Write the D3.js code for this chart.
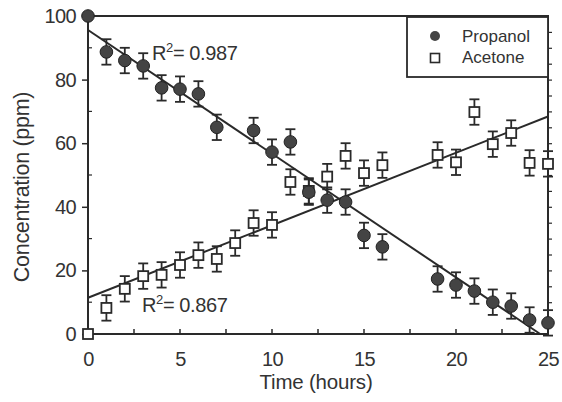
<!DOCTYPE html>
<html>
<head>
<meta charset="utf-8">
<script src="https://cdn.jsdelivr.net/npm/d3@7"></script>
<style>
  body { margin: 0; background: #fff; }
  svg { display: block; font-family: "Liberation Sans", Arial, sans-serif; }
</style>
</head>
<body>
<svg id="chart" width="562" height="402"></svg>
<script>
// data
var hours = [0, 1, 2, 3, 4, 5, 6, 7, 8, 9, 10, 11, 12, 13, 14, 15, 16, 19, 20, 21, 22, 23, 24, 25];
var propanolHours = [0, 1, 2, 3, 4, 5, 6, 7, 9, 10, 11, 12, 13, 14, 15, 16, 19, 20, 21, 22, 23, 24, 25];
var propanol = [100, 88.7, 86, 84.3, 77.4, 77, 75.5, 65, 64, 57.2, 60.4, 44.6, 42.1, 41.5, 31, 27.4, 17.3, 15.4, 13.5, 10, 8.8, 4.4, 3.5];
var propanolErr = [0, 4, 4, 4, 4, 4, 4, 4, 4, 4, 4, 4, 4, 4, 4, 4, 4, 4, 4, 4, 4, 4, 4];
var acetone = [0, 8.2, 14.2, 18.2, 18.6, 21.7, 24.8, 23.6, 28.6, 34.9, 34.3, 47.8, 45, 49.5, 56, 50.6, 53.1, 56.3, 54, 69.8, 59.7, 63.2, 53.8, 53.5];
var acetoneErr = [0, 4, 4, 4, 4, 4, 4, 4, 4, 4, 4, 4, 4, 4, 4, 4, 4, 4, 4, 4, 4, 4, 4, 4];
// linear fits (intercept, slope)
var propanolFit = [95.6, -3.89];
var acetoneFit = [11.4, 2.28];
var xTicks = [0, 5, 10, 15, 20, 25];
var yTicks = [0, 20, 40, 60, 80, 100];

var svg = d3.select("#chart");
var margin = { top: 16, right: 14, bottom: 68, left: 88 };
var width = 562 - margin.left - margin.right,
    height = 402 - margin.top - margin.bottom;
var g = svg.append("g").attr("transform", "translate(" + margin.left + "," + margin.top + ")");

var x = d3.scaleLinear().domain([0, 25]).range([0, width]);
var y = d3.scaleLinear().domain([0, 100]).range([height, 0]);
var ink = "#2a2a2a", txt = "#333";

// frame
g.append("rect").attr("width", width).attr("height", height)
  .attr("fill", "none").attr("stroke", ink).attr("stroke-width", 2);

// left axis: major outward, minor inward
var yAx = g.append("g").call(d3.axisLeft(y).tickValues(yTicks).tickSize(6).tickPadding(6));
yAx.select(".domain").remove();
yAx.selectAll("line").attr("stroke", ink).attr("stroke-width", 1.5);
yAx.selectAll("text").style("font-size", "20px").attr("fill", txt).attr("letter-spacing", "-0.6");
g.append("g").selectAll("line").data(d3.range(10, 100, 20)).enter().append("line")
  .attr("x1", 0).attr("x2", 4).attr("y1", y).attr("y2", y)
  .attr("stroke", ink).attr("stroke-width", 1.2);

// right axis ticks
var rAx = g.append("g").attr("transform", "translate(" + width + ",0)")
  .call(d3.axisRight(y).tickValues(d3.range(5, 100, 5)).tickSize(4).tickFormat(""));
rAx.select(".domain").remove();
rAx.selectAll("line").attr("stroke", ink).attr("stroke-width", 1.2);

// bottom axis: ticks inward
var xAx = g.append("g").attr("transform", "translate(0," + height + ")")
  .call(d3.axisBottom(x).tickValues(xTicks).tickSize(0));
xAx.select(".domain").remove();
xAx.selectAll("text").attr("y", 32).attr("dy", null)
  .style("font-size", "20px").attr("fill", txt).attr("letter-spacing", "-0.6");
g.append("g").selectAll("line").data(d3.range(2.5, 25, 2.5)).enter().append("line")
  .attr("x1", x).attr("x2", x).attr("y1", height).attr("y2", height - 5)
  .attr("stroke", ink).attr("stroke-width", 1.5);

// axis titles
svg.append("text").attr("transform", "translate(29,187) rotate(-90)")
  .attr("text-anchor", "middle").style("font-size", "21.5px").attr("fill", txt)
  .attr("letter-spacing", "-0.3").text("Concentration (ppm)");
svg.append("text").attr("x", 316).attr("y", 389)
  .attr("text-anchor", "middle").style("font-size", "20.5px").attr("fill", txt)
  .attr("letter-spacing", "-0.2").text("Time (hours)");

// fit lines
function fitLine(fit) {
  var x1 = 25;
  var yEnd = fit[0] + fit[1] * x1;
  if (yEnd < 0) { x1 = -fit[0] / fit[1]; yEnd = 0; }
  return [[0, fit[0]], [x1, yEnd]];
}
var line = d3.line().x(function (d) { return x(d[0]); }).y(function (d) { return y(d[1]); });
g.append("path").attr("d", line(fitLine(propanolFit))).attr("fill", "none").attr("stroke", ink).attr("stroke-width", 2);
g.append("path").attr("d", line(fitLine(acetoneFit))).attr("fill", "none").attr("stroke", ink).attr("stroke-width", 2);

// error bars
function errorBars(xs, vals, errs) {
  var eb = g.append("g").selectAll("g").data(vals.map(function (v, i) { return { t: xs[i], v: v, e: errs[i] }; })
    .filter(function (d) { return d.e > 0; })).enter().append("g")
    .attr("stroke", ink).attr("stroke-width", 1.8);
  eb.append("line").attr("x1", function (d) { return x(d.t); }).attr("x2", function (d) { return x(d.t); })
    .attr("y1", function (d) { return y(d.v - d.e); }).attr("y2", function (d) { return y(d.v + d.e); });
  eb.append("line").attr("x1", function (d) { return x(d.t) - 5; }).attr("x2", function (d) { return x(d.t) + 5; })
    .attr("y1", function (d) { return y(d.v + d.e); }).attr("y2", function (d) { return y(d.v + d.e); });
  eb.append("line").attr("x1", function (d) { return x(d.t) - 5; }).attr("x2", function (d) { return x(d.t) + 5; })
    .attr("y1", function (d) { return y(d.v - d.e); }).attr("y2", function (d) { return y(d.v - d.e); });
}
errorBars(hours, acetone, acetoneErr);
errorBars(propanolHours, propanol, propanolErr);

// acetone squares
g.append("g").selectAll("rect").data(acetone).enter().append("rect")
  .attr("x", function (d, i) { return x(hours[i]) - 5; })
  .attr("y", function (d) { return y(d) - 5; })
  .attr("width", 10).attr("height", 10)
  .attr("fill", "#fff").attr("stroke", ink).attr("stroke-width", 1.8);

// propanol circles
g.append("g").selectAll("circle").data(propanol).enter().append("circle")
  .attr("cx", function (d, i) { return x(propanolHours[i]); })
  .attr("cy", function (d) { return y(d); })
  .attr("r", 6.3).attr("fill", "#444").attr("stroke", "#222").attr("stroke-width", 1);

// R² labels
function r2(tx, ty, val) {
  var t = svg.append("text").attr("x", tx).attr("y", ty).style("font-size", "20px").attr("fill", txt)
    .attr("letter-spacing", "-0.4");
  t.append("tspan").text("R");
  t.append("tspan").attr("dy", -8).style("font-size", "13px").text("2");
  t.append("tspan").attr("dy", 8).text("= " + val);
}
r2(152, 60, "0.987");
r2(142, 312, "0.867");

// legend
var lg = svg.append("g");
lg.append("rect").attr("x", 407).attr("y", 17).attr("width", 141).attr("height", 60)
  .attr("fill", "#fff").attr("stroke", ink).attr("stroke-width", 1.8);
lg.append("circle").attr("cx", 435).attr("cy", 36).attr("r", 5).attr("fill", "#444");
lg.append("rect").attr("x", 430.5).attr("y", 53.5).attr("width", 9).attr("height", 9)
  .attr("fill", "#fff").attr("stroke", ink).attr("stroke-width", 1.6);
lg.append("text").attr("x", 462).attr("y", 42).style("font-size", "17px").attr("fill", txt).text("Propanol");
lg.append("text").attr("x", 462).attr("y", 63).style("font-size", "17px").attr("fill", txt).text("Acetone");
</script>
</body>
</html>
